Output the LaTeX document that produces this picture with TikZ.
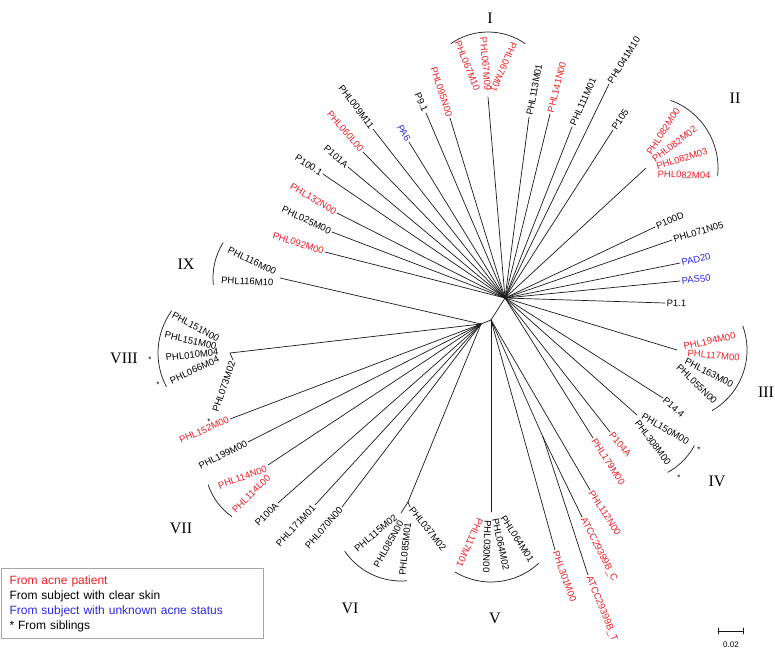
\documentclass[tikz,border=0pt]{standalone}
\usepackage{fontspec}
\setmainfont{Liberation Sans}
\newfontfamily\romanfont{Liberation Serif}
\definecolor{acred}{RGB}{235,30,35}
\definecolor{acblue}{RGB}{40,40,225}
\begin{document}
\begin{tikzpicture}[x=1pt,y=1pt,
 br/.style={line width=0.7pt, draw=black!90, line cap=round},
 arcl/.style={line width=0.75pt, draw=black!85},
 lbl/.style={font=\fontsize{9.5}{11}\selectfont, inner sep=1.5pt},
 lE/.style={lbl, anchor=east},
 lW/.style={lbl, anchor=west},
 rd/.style={text=acred},
 bl/.style={text=acblue},
 roman/.style={font=\romanfont\fontsize{16}{16}\selectfont, inner sep=0pt},
 ast/.style={font=\fontsize{8}{8}\selectfont, inner sep=0pt},
 legendbox/.style={draw=gray!70, line width=1pt, anchor=north west, inner xsep=8.5pt, inner ysep=4pt,
   text width=245pt, align=left, minimum height=70pt, font=\fontsize{12}{15}\selectfont}]
\useasboundingbox (0,0) rectangle (775,-654);
% internal nodes
\coordinate (H0) at (505,-298);
\coordinate (H1) at (491,-320);
\coordinate (H2) at (481,-324);
\coordinate (J1) at (543,-437);
\coordinate (J2) at (408,-502);
% leaf tips
\coordinate (a1) at (373,-129);
\coordinate (a2) at (363,-152);
\coordinate (a3) at (348,-167);
\coordinate (a4) at (323,-174);
\coordinate (a5) at (337,-213);
\coordinate (a6) at (332,-232);
\coordinate (a7) at (325,-252);
\coordinate (a8) at (409,-142);
\coordinate (a9) at (426,-113);
\coordinate (a10) at (450,-118);
\coordinate (cI) at (488,-97);
\coordinate (a11) at (529,-117);
\coordinate (a12) at (550,-114);
\coordinate (a13) at (572,-127);
\coordinate (a14) at (609,-84);
\coordinate (a15) at (613,-130);
\coordinate (cII) at (646,-168);
\coordinate (a16) at (655,-227);
\coordinate (a17) at (672,-240);
\coordinate (a18) at (680,-263);
\coordinate (a19) at (680,-281);
\coordinate (a20) at (665,-303);
\coordinate (cIII) at (677,-350);
\coordinate (a21) at (663,-398);
\coordinate (cIV) at (637,-415);
\coordinate (a22) at (610,-432);
\coordinate (a23) at (593,-438);
\coordinate (a24) at (590,-490);
\coordinate (a25) at (582,-517);
\coordinate (a26) at (588,-575);
\coordinate (a27) at (555,-550);
\coordinate (cV) at (491,-512);
\coordinate (a28) at (410,-507);
\coordinate (cVI) at (401,-513);
\coordinate (a29) at (342,-507);
\coordinate (a30) at (315,-505);
\coordinate (a31) at (278,-503);
\coordinate (cVII) at (268,-465);
\coordinate (a32) at (248,-442);
\coordinate (a33) at (230,-419);
\coordinate (cVIII) at (230,-353);
\coordinate (a34) at (233,-360);
\coordinate (cIX) at (280,-278);
% branches
\foreach \t in {a1,a2,a3,a4,a5,a6,a7,a8,a9,a10,cI,a11,a12,a13,a14,a15,cII,a16,a17,a18,a19,a20,cIII,a21,cIV,a22,a23,H1}
  \draw[br] (H0) -- (\t);
\foreach \t in {a24,J1,a27,cV,H2}
  \draw[br] (H1) -- (\t);
\draw[br] (J1) -- (a25);
\draw[br] (J1) -- (a26);
\foreach \t in {J2,a29,a30,a31,cVII,a32,a33,cVIII,cIX}
  \draw[br] (H2) -- (\t);
\draw[br] (J2) -- (a28);
\draw[br] (J2) -- (cVI);
\draw[br] (cVIII) -- (a34);
% clade arcs
\draw[arcl] ([shift={(55:65)}]cI) arc[start angle=55, end angle=125, radius=65];
\draw[arcl] ([shift={(70:72)}]cII) arc[start angle=70, end angle=-6, radius=72];
\draw[arcl] ([shift={(20:70)}]cIII) arc[start angle=20, end angle=-60, radius=70];
\draw[arcl] ([shift={(-28:65)}]cIV) arc[start angle=-28, end angle=-62, radius=65];
\draw[arcl] ([shift={(-121:70)}]cV) arc[start angle=-121, end angle=-47, radius=70];
\draw[arcl] ([shift={(-146:68)}]cVI) arc[start angle=-146, end angle=-85, radius=68];
\draw[arcl] ([shift={(-162:63)}]cVII) arc[start angle=-162, end angle=-125, radius=63];
\draw[arcl] ([shift={(144:72)}]cVIII) arc[start angle=144, end angle=208, radius=72];
\draw[arcl] ([shift={(148:67)}]cIX) arc[start angle=148, end angle=186, radius=67];
% single leaf labels
\node[lE,rotate=-53] (l1) at (a1) {PHL009M11};
\node[lE,rd,rotate=-49] (l2) at (a2) {PHL060L00};
\node[lE,rotate=-41] (l3) at (a3) {P101A};
\node[lE,rotate=-32] (l4) at (a4) {P100.1};
\node[lE,rd,rotate=-31] (l5) at (a5) {PHL132N00};
\node[lE,rotate=-25] (l6) at (a6) {PHL025M00};
\node[lE,rd,rotate=-18] (l7) at (a7) {PHL092M00};
\node[lE,bl,rotate=-61] (l8) at (a8) {PA6};
\node[lE,rotate=-66] (l9) at (a9) {P9.1};
\node[lE,rd,rotate=-72] (l10) at (a10) {PHL095N00};
\node[lW,rotate=79] (l11) at (a11) {PHL113M01};
\node[lW,rd,rotate=76] (l12) at (a12) {PHL141N00};
\node[lW,rotate=66] (l13) at (a13) {PHL111M01};
\node[lW,rotate=58] (l14) at (a14) {PHL041M10};
\node[lW,rotate=56] (l15) at (a15) {P105};
\node[lW,rotate=23] (l16) at (a16) {P100D};
\node[lW,rotate=17] (l17) at (a17) {PHL071N05};
\node[lW,bl,rotate=12] (l18) at (a18) {PAD20};
\node[lW,bl,rotate=6] (l19) at (a19) {PAS50};
\node[lW,rotate=-2] (l20) at (a20) {P1.1};
\node[lW,rotate=-41] (l21) at (a21) {P14.4};
\node[lW,rd,rotate=-50] (l22) at (a22) {P104A};
\node[lW,rd,rotate=-57] (l23) at (a23) {PHL179M00};
\node[lW,rd,rotate=-57] (l24) at (a24) {PHL112N00};
\node[lW,rd,rotate=-63] (l25) at (a25) {ATCC29399B\_C};
\node[lW,rd,rotate=-68] (l26) at (a26) {ATCC29399B\_T};
\node[lW,rd,rotate=-70] (l27) at (a27) {PHL301M00};
\node[lW,rotate=-51] (l28) at (a28) {PHL037M02};
\node[lE,rotate=49] (l29) at (a29) {PHL070N00};
\node[lE,rotate=47] (l30) at (a30) {PHL171M01};
\node[lE,rotate=45] (l31) at (a31) {P100A};
\node[lE,rotate=27] (l32) at (a32) {PHL199M00};
\node[lE,rd,rotate=23] (l33) at (a33) {PHL152M00};
\node[lE,rotate=71] (l34) at (a34) {PHL073M02};
% clade I
\node[lE,rd,rotate=-68] (i1) at (478,-92) {PHL067M10};
\node[lE,rd,rotate=-85] (i2) at (488,-92) {PHL067M09};
\node[lE,rd,rotate=-114] (i3) at (492,-93) {PHL067M01};
% clade II
\node[lW,rd,rotate=57] (ii1) at (648,-155) {PHL082M00};
\node[lW,rd,rotate=37] (ii2) at (652,-161) {PHL082M02};
\node[lW,rd,rotate=17] (ii3) at (655,-167) {PHL082M03};
\node[lW,rd,rotate=-2] (ii4) at (656,-174) {PHL082M04};
% clade III
\node[lW,rd,rotate=12] (iii1) at (682,-347) {PHL194M00};
\node[lW,rd,rotate=-5] (iii2) at (686,-353) {PHL117M00};
\node[lW,rotate=-27] (iii3) at (684,-360) {PHL163M00};
\node[lW,rotate=-44] (iii4) at (677,-365) {PHL055N00};
% clade IV
\node[lW,rotate=-30] (iv1) at (641,-415) {PHL150M00};
\node[lW,rotate=-53] (iv2) at (636,-420) {PHL308M00};
% clade V
\node[lW,rd,rotate=-114] (v1) at (481,-517) {PHL117M01};
\node[lW,rotate=-92] (v2) at (488,-519) {PHL030N00};
\node[lW,rotate=-78] (v3) at (495,-517) {PHL064M02};
\node[lW,rotate=-57] (v4) at (502,-515) {PHL064M01};
% clade VI
\node[lE,rotate=40] (vi1) at (397,-515) {PHL115M02};
\node[lE,rotate=61] (vi2) at (402,-520) {PHL085N00};
\node[lE,rotate=84] (vi3) at (408,-521) {PHL085M01};
% clade VII
\node[lE,rd,rotate=20] (vii1) at (268,-468) {PHL114N00};
\node[lE,rd,rotate=45] (vii2) at (270,-475) {PHL114L00};
% clade VIII
\node[lE,rotate=-28] (viii1) at (220,-340) {PHL151N00};
\node[lE,rotate=-13] (viii2) at (218,-347) {PHL151M00};
\node[lE,rotate=6] (viii3) at (220,-352) {PHL010M04};
\node[lE,rotate=25] (viii4) at (220,-358) {PHL066M04};
% clade IX
\node[lE,rotate=-26] (ix1) at (277,-273) {PHL116M00};
\node[lE,rotate=-3] (ix2) at (275,-283) {PHL116M10};
% roman numerals
\node[roman] (rI) at (490,-18) {I};
\node[roman] (rII) at (735,-98) {II};
\node[roman] (rIII) at (766,-392) {III};
\node[roman] (rIV) at (717,-481) {IV};
\node[roman] (rV) at (495,-618) {V};
\node[roman] (rVI) at (350,-608) {VI};
\node[roman] (rVII) at (181,-528) {VII};
\node[roman] (rVIII) at (124,-358) {VIII};
\node[roman] (rIX) at (186,-264) {IX};
% sibling asterisks
\node[ast] (s1) at (150,-360) {*};
\node[ast] (s2) at (158,-385) {*};
\node[ast] (s3) at (209,-422) {*};
\node[ast] (s4) at (699,-450) {*};
\node[ast] (s5) at (679,-478) {*};
% scale bar
\coordinate (sb1) at (718,-631);
\coordinate (sb2) at (743,-631);
\draw[br] (sb1) -- (sb2);
\draw[br] ([yshift=3pt]sb1) -- ([yshift=-3pt]sb1);
\draw[br] ([yshift=3pt]sb2) -- ([yshift=-3pt]sb2);
\node[font=\fontsize{8}{8}\selectfont, inner sep=0pt] (sbl) at (731,-645) {0.02};
% legend
\node[legendbox] (legend) at (0.5,-568) {\textcolor{acred}{From acne patient}\\
From subject with clear skin\\
\textcolor{acblue}{From subject with unknown acne status}\\
\relax{*} From siblings};
\end{tikzpicture}
\end{document}
